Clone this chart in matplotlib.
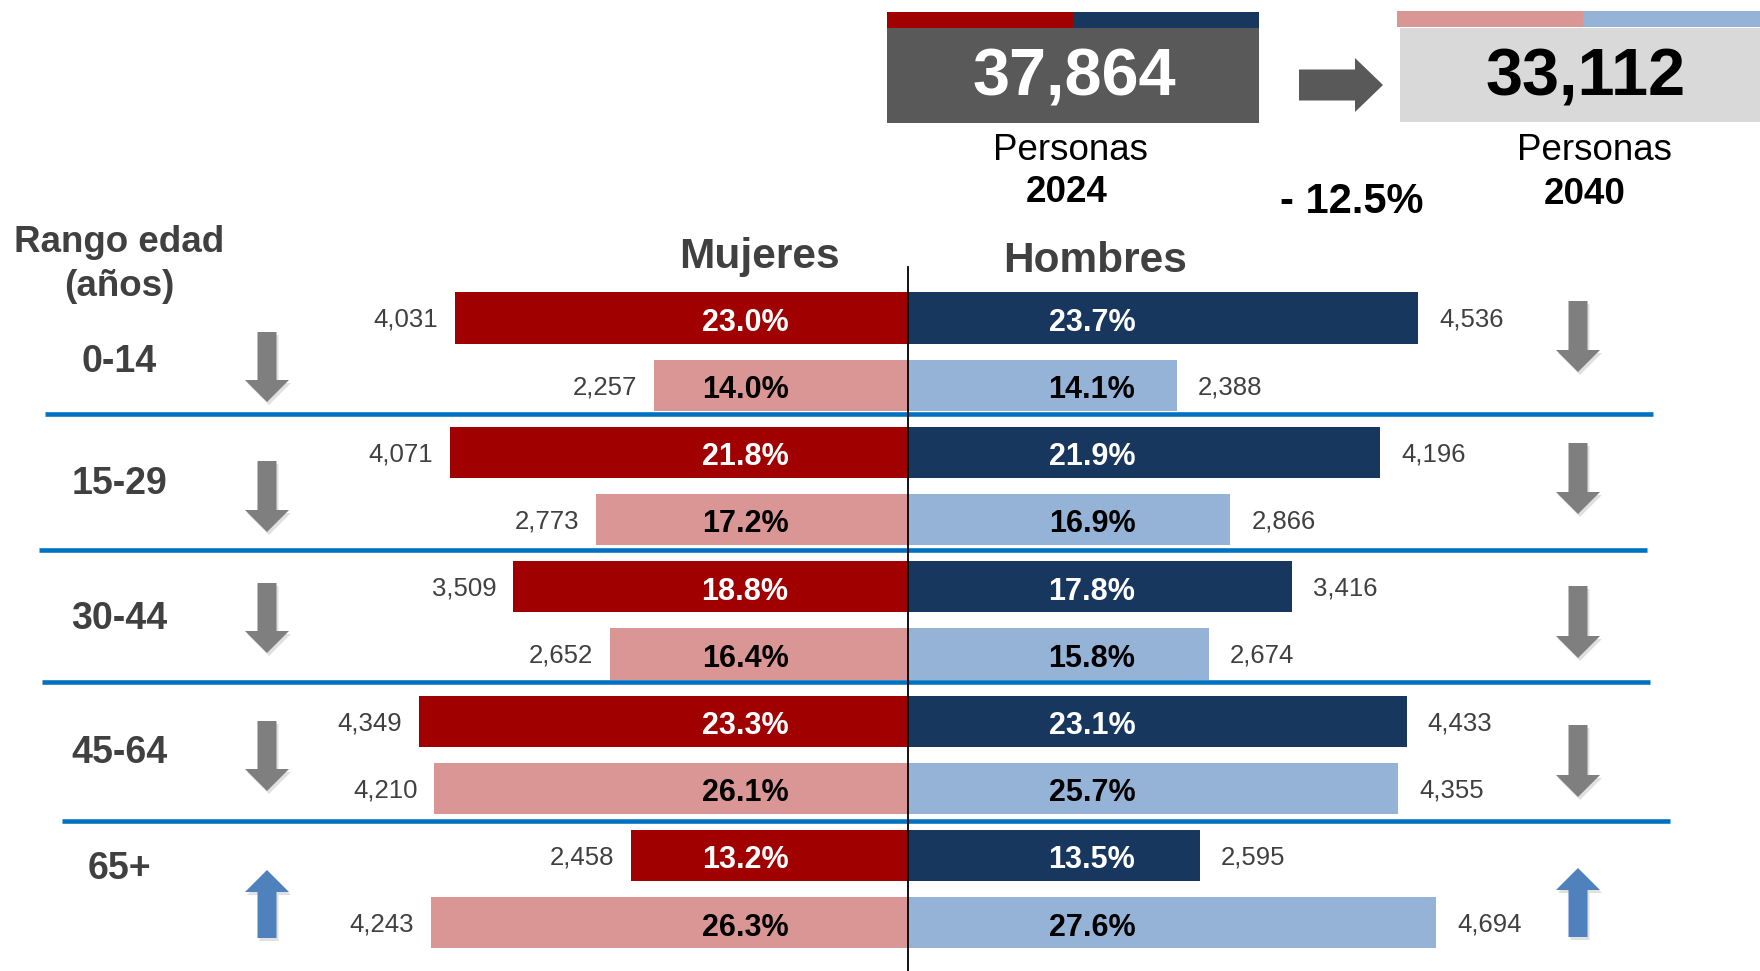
import matplotlib
matplotlib.use("Agg")
import matplotlib.pyplot as plt
from matplotlib.patches import Rectangle, FancyArrow
from matplotlib.transforms import blended_transform_factory
import matplotlib.font_manager as fm

# ---------------- data ----------------
ages = ['0-14', '15-29', '30-44', '45-64', '65+']
mujeres_2024 = [4031, 4071, 3509, 4349, 2458]
mujeres_2040 = [2257, 2773, 2652, 4210, 4243]
hombres_2024 = [4536, 4196, 3416, 4433, 2595]
hombres_2040 = [2388, 2866, 2674, 4355, 4694]
pct_muj_2024 = [23.0, 21.8, 18.8, 23.3, 13.2]
pct_muj_2040 = [14.0, 17.2, 16.4, 26.1, 26.3]
pct_hom_2024 = [23.7, 21.9, 17.8, 23.1, 13.5]
pct_hom_2040 = [14.1, 16.9, 15.8, 25.7, 27.6]
total_2024 = 37864
total_2040 = 33112
cambio_pct = -12.5

# ---------------- style ----------------
C_M24 = '#A00000'
C_M40 = '#D99694'
C_H24 = '#17375E'
C_H40 = '#95B3D7'
C_SEP = '#0070C0'
C_TXT = '#404040'
C_ARROW_DOWN = '#7F7F7F'
C_ARROW_UP = '#4F81BD'

names = {f.name for f in fm.fontManager.ttflist}
NARROW = ['Liberation Sans Narrow', 'Liberation Sans'] if 'Liberation Sans Narrow' in names else ['Liberation Sans']
WIDE = ['Liberation Sans']

W, H = 1760, 971
fig = plt.figure(figsize=(W / 100, H / 100), dpi=100)

# bar axes: x in persons, y in row index
PX_PER_UNIT = 0.1125
X0 = 908
ROW0 = 318
PITCH = 67.2
ax = fig.add_axes([0, 0, 1, 1])
ax.set_xlim(-X0 / PX_PER_UNIT, (W - X0) / PX_PER_UNIT)
ax.set_ylim((H - ROW0) / PITCH, -ROW0 / PITCH)
ax.axis('off')

# overlay axes in pixels
ov = fig.add_axes([0, 0, 1, 1], zorder=3)
ov.set_xlim(0, W)
ov.set_ylim(H, 0)
ov.axis('off')
ov.patch.set_alpha(0)

rows24 = [2 * i for i in range(len(ages))]
rows40 = [2 * i + 1 for i in range(len(ages))]
BH = 0.76

ax.barh(rows24, [-v for v in mujeres_2024], height=BH, color=C_M24)
ax.barh(rows40, [-v for v in mujeres_2040], height=BH, color=C_M40)
ax.barh(rows24, hombres_2024, height=BH, color=C_H24)
ax.barh(rows40, hombres_2040, height=BH, color=C_H40)

# value labels
for rows, vals, side in [(rows24, mujeres_2024, -1), (rows40, mujeres_2040, -1),
                         (rows24, hombres_2024, 1), (rows40, hombres_2040, 1)]:
    for r, v in zip(rows, vals):
        ax.annotate(f'{v:,}', xy=(side * v, r), xytext=(side * (17 if side < 0 else 21), -2),
                    textcoords='offset pixels', ha='right' if side < 0 else 'left',
                    va='center', fontsize=18.5, color=C_TXT, family=NARROW)

# percentage labels
bt = blended_transform_factory(ov.transData, ax.transData)
for rows, vals, xpix, col in [(rows24, pct_muj_2024, 745, 'white'), (rows40, pct_muj_2040, 745, 'black'),
                              (rows24, pct_hom_2024, 1092, 'white'), (rows40, pct_hom_2040, 1092, 'black')]:
    for r, v in zip(rows, vals):
        ax.text(xpix, r + 0.07, f'{v:.1f}%', transform=bt, ha='center', va='center',
                fontsize=22, fontweight='bold', color=col, family=NARROW)

# center line
ov.plot([X0, X0], [267, H], color='black', lw=1.3, zorder=5)

# separators
for y, x1, x2 in [(414, 45, 1653), (550, 39, 1647), (682, 42, 1650), (821.5, 62, 1670)]:
    ov.plot([x1, x2], [y, y], color=C_SEP, lw=3.3, solid_capstyle='butt')

# headers
ov.text(759, 257, 'Mujeres', ha='center', va='center', fontsize=30.5, fontweight='bold', color=C_TXT, family=WIDE)
ov.text(1095, 261, 'Hombres', ha='center', va='center', fontsize=30.5, fontweight='bold', color=C_TXT, family=WIDE)
ov.text(119, 242, 'Rango edad', ha='center', va='center', fontsize=26.5, fontweight='bold', color=C_TXT, family=WIDE)
ov.text(119, 286, '(años)', ha='center', va='center', fontsize=26.5, fontweight='bold', color=C_TXT, family=WIDE)

age_y = [362, 484, 619, 753, 869]
for lab, y in zip(ages, age_y):
    ov.text(119, y, lab, ha='center', va='center', fontsize=27, fontweight='bold', color=C_TXT, family=WIDE)

# trend arrows (direction from totals per age group)
left_arrows = [(332, 402), (461, 532), (583, 653), (721, 791), (870, 938)]
right_arrows = [(301, 372), (443, 514), (586, 658), (725, 797), (868, 937)]
for i in range(len(ages)):
    up = (mujeres_2040[i] + hombres_2040[i]) > (mujeres_2024[i] + hombres_2024[i])
    col = C_ARROW_UP if up else C_ARROW_DOWN
    for xc, (y1, y2) in [(267, left_arrows[i]), (1578, right_arrows[i])]:
        ys, ye = (y2, y1) if up else (y1, y2)
        # shadow
        ov.add_patch(FancyArrow(xc + 2, ys + 3, 0, ye - ys, width=19, head_width=44, head_length=22,
                                length_includes_head=True, color='#000000', alpha=0.12, lw=0))
        ov.add_patch(FancyArrow(xc, ys, 0, ye - ys, width=19, head_width=44, head_length=22,
                                length_includes_head=True, color=col, lw=0))

# top boxes
ov.add_patch(Rectangle((887, 28), 372, 95, color='#595959', lw=0))
ov.add_patch(Rectangle((887, 12), 186, 16, color=C_M24, lw=0))
ov.add_patch(Rectangle((1073, 12), 186, 16, color=C_H24, lw=0))
ov.add_patch(Rectangle((1400, 28), 360, 94, color='#D9D9D9', lw=0))
ov.add_patch(Rectangle((1397, 11), 186, 16, color=C_M40, lw=0))
ov.add_patch(Rectangle((1583, 11), 177, 16, color=C_H40, lw=0))

ov.add_patch(FancyArrow(1299, 85, 84, 0, width=31, head_width=54, head_length=28,
                        length_includes_head=True, color='#595959', lw=0))

ov.text(1074, 78, f'{total_2024:,}', ha='center', va='center', fontsize=48, fontweight='bold',
        color='white', family=NARROW)
ov.text(1586, 78, f'{total_2040:,}', ha='center', va='center', fontsize=48, fontweight='bold',
        color='black', family=NARROW)
ov.text(1071, 151, 'Personas', ha='center', va='center', fontsize=26.5, color='black', family=NARROW)
ov.text(1067, 192, '2024', ha='center', va='center', fontsize=26.5, fontweight='bold', color='black', family=NARROW)
ov.text(1595, 151, 'Personas', ha='center', va='center', fontsize=26.5, color='black', family=NARROW)
ov.text(1585, 195, '2040', ha='center', va='center', fontsize=26.5, fontweight='bold', color='black', family=NARROW)
ov.text(1352, 202, f'- {abs(cambio_pct):.1f}%', ha='center', va='center', fontsize=30, fontweight='bold',
        color='black', family=NARROW)

fig.savefig('out.png', dpi=100)
